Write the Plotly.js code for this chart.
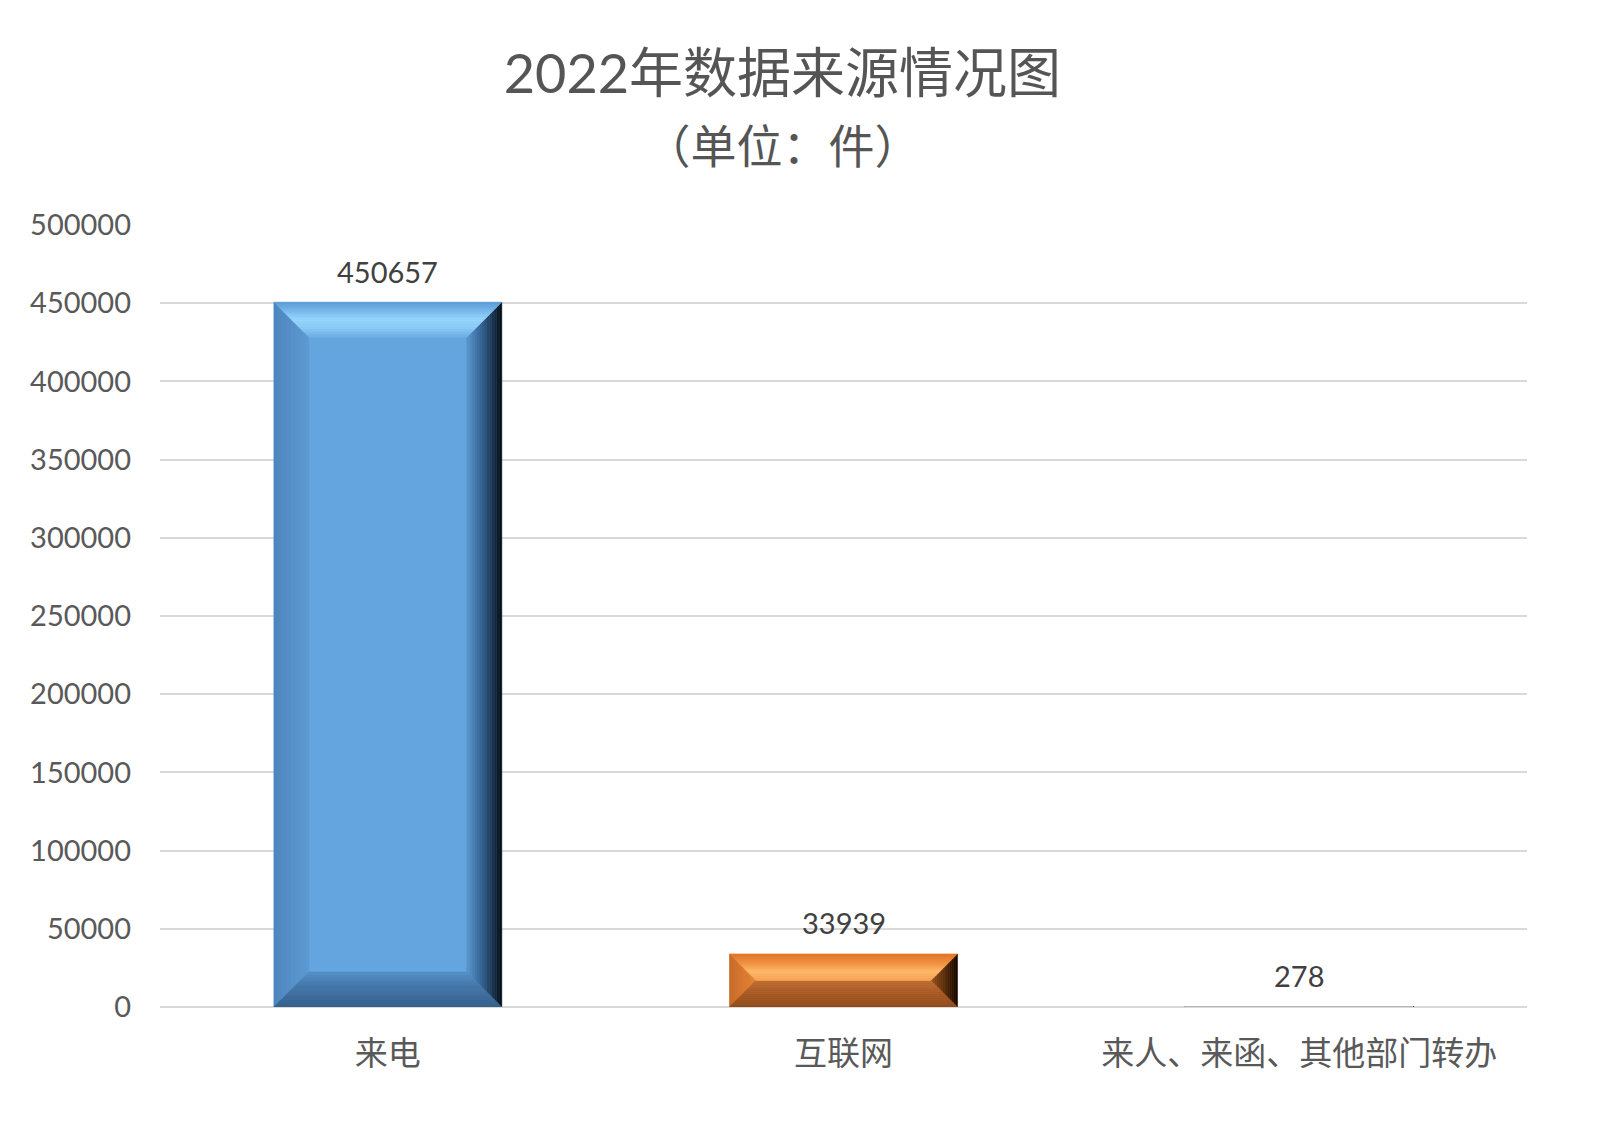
<!DOCTYPE html>
<html>
<head>
<meta charset="utf-8">
<script src="https://cdn.plot.ly/plotly-3.0.1.min.js"></script>
<style>
  html, body { margin: 0; padding: 0; background: #fff; }
  #chart { width: 1600px; height: 1122px; }
</style>
</head>
<body>
<div id="chart"></div>
<script>
// ---- data ----
const categories = ["来电", "互联网", "来人、来函、其他部门转办"];
const values = [450657, 33939, 278];
const yTicks = [0, 50000, 100000, 150000, 200000, 250000, 300000, 350000, 400000, 450000, 500000];

// ---- styles ----
const faceColors = ["#64a5e0", "#ee8a3c", "#a5a5a5"];
// bevel colour stops per side, outer edge -> inner edge
const bevels = [
  {
    top: ["#5b99d1", "#78b8ec", "#97d6fc", "#8acbf6", "#6eaee6"],
    bottom: ["#35608a", "#3d6d9c", "#4679ad", "#5590c8"],
    left: ["#4d86bc", "#5690c8", "#5d9bd3"],
    right: ["#050a10", "#1b344d", "#2f5680", "#4377ab", "#5a96cd"],
  },
  {
    top: ["#df7427", "#f08f40", "#fdb868", "#f9a457"],
    bottom: ["#8f4c1c", "#a65a25", "#bd6d33"],
    left: ["#c46a2a", "#d77832", "#e58436"],
    right: ["#120801", "#5a2e0e", "#96521e"],
  },
  {
    top: ["#999999", "#c8c8c8", "#b4b4b4"],
    bottom: ["#707070", "#858585"],
    left: ["#8c8c8c", "#9a9a9a"],
    right: ["#222222", "#555555", "#888888"],
  },
];

const W = 1600, H = 1122;
const M = { l: 160, r: 73, t: 225, b: 115 };
const barWidth = 0.5;
const yMax = 500000;
const xRange = [-0.5, 2.5];
const pxPerX = (W - M.l - M.r) / (xRange[1] - xRange[0]);
const pxPerY = (H - M.t - M.b) / yMax;
const bevelPx = 35;
const BANDS = 14;

// colour helpers for smooth bevel gradients
function hexToRgb(h) {
  return [1, 3, 5].map((k) => parseInt(h.substr(k, 2), 16));
}
function colorAt(stops, t) {
  const pos = t * (stops.length - 1);
  const k = Math.min(Math.floor(pos), stops.length - 2);
  const f = pos - k;
  const a = hexToRgb(stops[k]), b = hexToRgb(stops[k + 1]);
  const c = a.map((v, j) => Math.round(v + (b[j] - v) * f));
  return "rgb(" + c.join(",") + ")";
}

// build bevel shapes from the values (data coordinates)
function bevelShapes() {
  const shapes = [];
  values.forEach((v, i) => {
    const x0 = i - barWidth / 2, x1 = i + barWidth / 2;
    const hpx = v * pxPerY, wpx = barWidth * pxPerX;
    const b = Math.min(bevelPx, hpx / 2, wpx / 2);
    const bx = b / pxPerX, by = b / pxPerY;
    const LT = (t) => [x0 + bx * t, v - by * t];
    const RT = (t) => [x1 - bx * t, v - by * t];
    const LB = (t) => [x0 + bx * t, by * t];
    const RB = (t) => [x1 - bx * t, by * t];
    const sides = {
      top: (a, c) => [LT(a), RT(a), RT(c), LT(c)],
      bottom: (a, c) => [LB(a), RB(a), RB(c), LB(c)],
      left: (a, c) => [LB(a), LT(a), LT(c), LB(c)],
      right: (a, c) => [RB(a), RT(a), RT(c), RB(c)],
    };
    ["left", "right", "bottom", "top"].forEach((side) => {
      const stops = bevels[i][side];
      for (let k = 0; k < BANDS; k++) {
        const pts = sides[side](k / BANDS, (k + 1) / BANDS);
        const path = "M" + pts.map((p) => p[0] + "," + p[1]).join("L") + "Z";
        const col = colorAt(stops, (k + 0.5) / BANDS);
        shapes.push({
          type: "path", xref: "x", yref: "y", path: path,
          fillcolor: col, line: { width: 0.6, color: col }, layer: "above",
        });
      }
    });
  });
  return shapes;
}

const fontFamily = "Lato, 'Noto Sans CJK SC', sans-serif";

const trace = {
  type: "bar",
  x: categories.map((c, i) => i),
  y: values,
  width: barWidth,
  marker: { color: faceColors, line: { width: 0 } },
  hoverinfo: "none",
  showlegend: false,
};

const labels = values.map((v, i) => ({
  x: i, y: v, xref: "x", yref: "y",
  text: String(v), showarrow: false,
  yanchor: "middle", yshift: 31,
  font: { family: fontFamily, size: 29, color: "#404040" },
}));

const layout = {
  width: W,
  height: H,
  margin: M,
  paper_bgcolor: "#ffffff",
  plot_bgcolor: "#ffffff",
  title: {
    text: "2022年数据来源情况图<br><span style=\"font-size:46px\">（单位：件）</span>",
    font: { family: fontFamily, size: 54, color: "#555555" },
    x: 0.489, xref: "container", xanchor: "center",
    y: 1 - 93 / H, yref: "container", yanchor: "top",
  },
  xaxis: {
    range: xRange,
    tickmode: "array",
    tickvals: categories.map((c, i) => i),
    ticktext: categories,
    showgrid: false,
    zeroline: false,
    showline: false,
    ticks: "",
    ticklabelstandoff: 24,
    tickfont: { family: fontFamily, size: 33, color: "#595959" },
    fixedrange: true,
  },
  yaxis: {
    range: [0, yMax],
    tickmode: "array",
    tickvals: yTicks,
    ticktext: yTicks.map(String),
    showgrid: true,
    gridcolor: "#d9d9d9",
    gridwidth: 2,
    zeroline: true,
    zerolinecolor: "#d9d9d9",
    zerolinewidth: 2,
    showline: false,
    ticks: "",
    ticklabelstandoff: 28,
    tickfont: { family: fontFamily, size: 29, color: "#595959" },
    fixedrange: true,
  },
  shapes: bevelShapes(),
  annotations: labels,
  bargap: 0.5,
};

Plotly.newPlot("chart", [trace], layout, { staticPlot: true });
</script>
</body>
</html>
